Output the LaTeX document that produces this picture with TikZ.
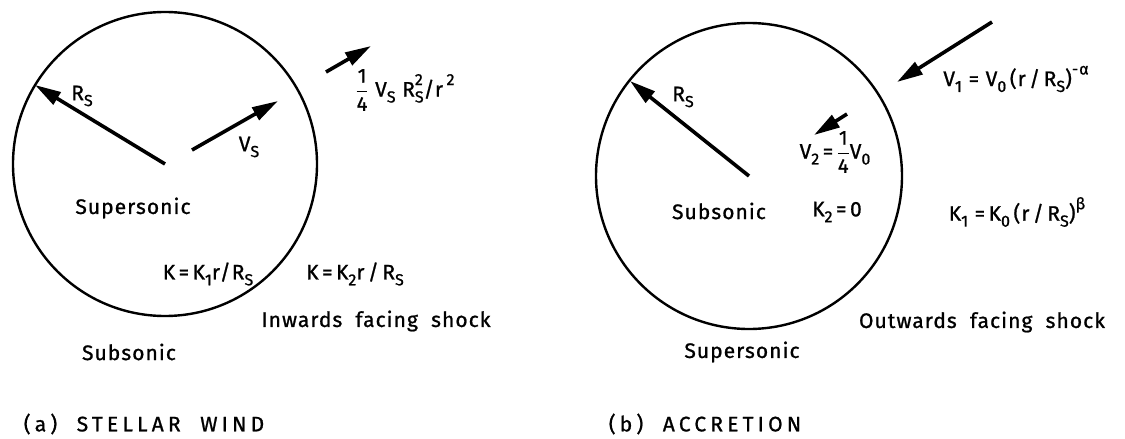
\documentclass[tikz,border=0pt]{standalone}
\usepackage{fontspec}
\setmainfont[LetterSpace=5,FakeBold=1]{Fira Sans}
\usetikzlibrary{arrows.meta}
\newcommand\mysub[1]{\raisebox{-0.28em}{\fontsize{16}{16}\selectfont #1}}
\newcommand\mysup[1]{\raisebox{0.55em}{\fontsize{16}{16}\selectfont #1}}
\newcommand\mysubsup[2]{\makebox[0pt][l]{\mysup{#2}}\mysub{#1}}
\newcommand\myfr[2]{$\displaystyle\frac{\hbox{\fontsize{20}{21}\selectfont #1}}{\hbox{\fontsize{20}{21}\selectfont #2}}$}
\begin{document}
\begin{tikzpicture}[x=1pt,y=-1pt,
  ring/.style={line width=2.4pt},
  vec/.style={line width=3.6pt,-{Triangle[length=26pt,width=14pt]}},
  lab/.style={font=\fontsize{21}{24}\selectfont, inner sep=0pt},
  captext/.style={font=\fontsize{21}{24}\selectfont\addfontfeature{LetterSpace=20}, inner sep=0pt}]
\useasboundingbox (0,0) rectangle (1125,439);
% ---- (a) stellar wind
\coordinate (ca) at (165,164);
\draw[ring] (ca) circle[radius=152];
\coordinate (ra) at (35,85);
\draw[vec] (ca) -- (ra);
\coordinate (va1) at (192,150);
\coordinate (va2) at (278,101);
\draw[vec] (va1) -- (va2);
\coordinate (wa1) at (326,72);
\coordinate (wa2) at (371,46);
\draw[vec] (wa1) -- (wa2);
\node[lab] (rsa) at (82,96) {R\mysub{S}};
\node[lab] (vsa) at (249,147) {V\mysub{S}};
\node[lab] (wla) at (405,90) {\myfr{1}{4} V\mysub{S} R\mysubsup{S}{2}/r\,\mysup{2}};
\node[lab] (supa) at (133,208) {Supersonic};
\node[lab] (k1a) at (208,274) {K\,=\,K\mysub{1}r/R\mysub{S}};
\node[lab] (k2a) at (355,274) {K\,=\,K\mysub{2}r\,/\,R\mysub{S}};
\node[lab] (sha) at (376,321) {Inwards\ \ facing\ \ shock};
\node[lab] (suba) at (129,352) {Subsonic};
\node[captext] (capa) at (144,424) {(a)\ \ STELLAR\ \ WIND};
% ---- (b) accretion
\coordinate (cb) at (749,176);
\draw[ring] (cb) circle[radius=153];
\coordinate (rb) at (630,81);
\draw[vec] (cb) -- (rb);
\coordinate (ob1) at (992,22);
\coordinate (ob2) at (897,82);
\draw[vec] (ob1) -- (ob2);
\coordinate (ib1) at (847,114);
\coordinate (ib2) at (814,135);
\draw[vec] (ib1) -- (ib2);
\node[lab] (rsb) at (683,97) {R\mysub{S}};
\node[lab] (v1b) at (1016,79) {V\mysub{1} = V\mysub{0}\,(r\,/\,R\mysub{S})\mysup{-α}};
\node[lab] (v2b) at (835,152) {V\mysub{2}\,=\,\myfr{1}{4}V\mysub{0}};
\node[lab] (subb) at (719,211) {Subsonic};
\node[lab] (k2b) at (837,212) {K\mysub{2}\,=\,0};
\node[lab] (k1b) at (1017,212) {K\mysub{1}\ =\,K\mysub{0}\,(r\,/\,R\mysub{S})\mysup{β}};
\node[lab] (shb) at (982,322) {Outwards\ \ facing\ \ shock};
\node[lab] (supb) at (742,352) {Supersonic};
\node[captext] (capb) at (705,424) {(b)\ \ ACCRETION};
\end{tikzpicture}
\end{document}
